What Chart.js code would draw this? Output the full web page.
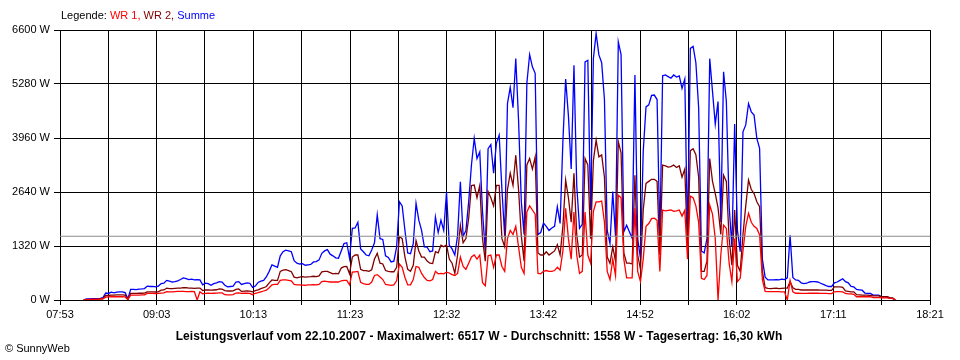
<!DOCTYPE html>
<html>
<head>
<meta charset="utf-8">
<script src="https://cdn.jsdelivr.net/npm/chart.js@4/dist/chart.umd.min.js"></script>
<style>
  html, body { margin: 0; padding: 0; background: #fff; }
  #wrap { position: relative; width: 960px; height: 360px; overflow: hidden; font-family: "Liberation Sans", Arial, sans-serif; }
  #c { position: absolute; left: 0; top: 0; }
  .txt { position: absolute; font-size: 11px; line-height: 13px; white-space: nowrap; color: #000; }
  #legend { left: 61px; top: 9px; }
  #title { left: 0; width: 958px; text-align: center; top: 330px; font-weight: bold; font-size: 12px; letter-spacing: 0.1px; }
  #copy { left: 5px; top: 342px; }
</style>
</head>
<body>
<div id="wrap">
  <canvas id="c" width="960" height="360"></canvas>
  <div class="txt" id="legend">Legende: <span style="color:#ff0000">WR 1,</span> <span style="color:#800000">WR 2,</span> <span style="color:#0000ff">Summe</span></div>
  <div class="txt" id="title">Leistungsverlauf vom 22.10.2007 - Maximalwert: 6517 W - Durchschnitt: 1558 W - Tagesertrag: 16,30 kWh</div>
  <div class="txt" id="copy">© SunnyWeb</div>
</div>
<script>
// x axis: minutes since midnight, 07:53 .. 18:21
const axisStart = 473;   // 07:53
const axisEnd = 1101;    // 18:21
const tickLabels = ['07:53','09:03','10:13','11:23','12:32','13:42','14:52','16:02','17:11','18:21'];
const yTicks = [0, 1320, 2640, 3960, 5280, 6600];
const average = 1558;

// samples every 2 minutes starting 08:10
const startMinute = 490;
const stepMinutes = 2;

const summe = [
  0,25,25,30,30,35,40,60,170,160,
  190,175,195,200,200,180,30,260,260,255,
  265,270,280,340,330,335,320,340,400,410,
  480,460,440,450,470,500,540,520,500,510,
  490,500,490,370,410,400,360,400,420,450,
  440,360,320,330,340,440,450,380,400,420,
  410,310,340,430,460,480,570,700,860,830,
  800,1080,1180,1220,1200,1180,960,900,880,890,
  850,860,870,930,940,980,1140,1200,1230,1120,
  1080,1030,1020,1200,1380,1400,1020,1750,1760,1900,
  1250,1180,1100,1080,1220,1400,2080,1500,1480,1080,
  1040,930,950,1300,2400,2300,1700,1150,1130,1380,
  2360,1950,1700,1300,1290,1180,1200,2030,1650,1950,
  1700,2640,1340,1250,1100,1580,2890,1560,1700,2400,
  3300,3950,3460,3620,2150,1180,3700,3800,3100,3830,
  4030,2700,1560,4800,5200,4700,5900,4400,2400,1600,
  5300,6000,5700,5540,1600,1650,1880,1800,1700,1760,
  1800,2280,1870,3870,5400,4500,3200,5740,2800,1750,
  1850,5820,5860,2200,5900,6517,5990,5800,4900,1700,
  1380,2650,1550,6310,6000,1670,1830,1670,1510,5500,
  1500,1020,3630,4720,4770,5000,5010,4900,1510,5480,
  5500,5460,5420,5500,5450,5480,5170,5400,1500,6150,
  6200,5800,4700,1200,1150,1500,5900,5100,4300,4850,
  1900,5580,4850,2300,1300,4300,1700,1180,4110,4280,
  4800,4600,4520,3950,3710,1000,560,490,490,490,
  500,490,510,500,540,1580,550,490,480,420,
  400,410,440,450,450,440,410,380,350,330,
  330,420,440,480,520,450,420,330,320,260,
  250,240,170,160,160,120,120,120,80,80,
  80,40,40,0
];

const wr2 = [
  0,10,15,15,20,20,25,35,110,110,
  120,120,125,125,125,120,20,160,160,160,
  165,165,170,200,200,200,195,200,240,245,
  290,280,280,285,290,290,300,300,290,290,
  285,290,290,230,245,245,240,245,250,270,
  265,230,220,220,225,260,270,210,215,220,
  215,200,230,250,280,300,330,420,490,480,
  480,700,730,740,720,690,560,540,560,570,
  560,565,570,580,570,590,690,700,700,670,
  640,650,640,780,815,820,640,1050,1100,1100,
  750,720,720,700,740,1000,1140,900,880,720,
  700,690,690,800,1550,1500,1050,750,700,850,
  1450,1200,1050,1050,950,900,890,1180,1150,1340,
  1300,1350,1000,900,650,1100,1830,1400,1500,2000,
  2800,2810,2500,2800,1500,950,2650,2500,2300,2800,
  2800,1500,1300,2700,3100,2800,3540,2700,1560,950,
  3300,3460,3200,3500,1150,1100,1100,1180,1100,1150,
  1200,1350,1100,1800,2930,2500,1900,3100,1600,1050,
  1100,3460,3300,1500,3400,3910,3500,3545,3000,1050,
  900,1300,950,3870,3600,1150,900,900,880,3050,
  1100,750,2200,2850,2900,2950,2950,2900,1100,3300,
  3280,3250,3260,3300,3240,3280,3000,3200,1250,3650,
  3700,3550,3000,700,700,950,3460,2900,2600,2250,
  1600,3050,2900,1500,850,2200,850,700,1600,2300,
  2930,2700,2600,2400,2280,700,300,285,280,285,
  290,280,285,290,290,450,300,260,260,245,
  245,245,245,245,245,245,240,240,240,235,
  235,320,320,320,310,220,210,200,200,130,
  125,120,120,120,110,100,100,100,80,80,
  80,60,50,0
];

const wr1 = [
  0,10,12,12,15,15,20,25,70,75,
  80,80,80,80,80,75,10,120,120,120,
  120,125,125,160,160,160,155,160,170,175,
  205,200,200,205,210,210,210,205,205,210,
  205,0,200,150,160,165,160,165,170,175,
  175,130,125,125,130,170,175,160,165,165,
  160,130,165,180,200,220,240,300,370,380,
  380,480,490,490,480,470,380,370,370,365,
  360,370,370,375,370,380,450,460,450,440,
  440,445,440,470,480,480,370,680,690,700,
  430,400,380,380,440,600,620,560,500,380,
  370,360,370,470,880,800,550,370,370,500,
  820,800,650,550,480,470,500,700,640,650,
  640,680,660,620,600,650,1050,820,750,900,
  1050,1100,1000,1100,420,350,1080,1100,800,1100,
  1100,820,700,1500,1700,1600,1800,1300,800,650,
  2150,2300,2200,2100,650,640,700,720,700,700,
  720,800,730,1200,2240,1500,1000,2150,1100,650,
  700,2150,1100,900,2160,2400,2400,2420,1900,700,
  500,1000,600,2560,2500,1000,540,540,540,2240,
  700,450,1000,1800,1870,1990,2000,1950,700,2200,
  2180,2190,2200,2170,2180,2200,2050,2190,1000,2540,
  2500,2300,1900,530,500,600,2320,2100,1500,0,
  1100,1830,1750,900,450,1500,450,530,1200,1800,
  2120,1900,1800,1750,1590,500,210,205,205,205,
  205,205,200,200,0,480,200,165,165,160,
  160,160,165,165,165,165,160,160,160,155,
  155,200,205,205,200,160,150,150,140,80,
  80,80,80,80,80,60,60,60,50,50,
  50,40,40,0
];

const toPoints = arr => arr.map((v, i) => ({ x: startMinute + i * stepMinutes, y: v }));

const font = { family: '"Liberation Sans", Arial, sans-serif', size: 11 };

new Chart(document.getElementById('c'), {
  type: 'line',
  data: {
    datasets: [
      { label: 'Durchschnitt', data: [{ x: axisStart, y: average }, { x: axisEnd, y: average }], borderColor: '#8c8c8c', borderWidth: 1, pointRadius: 0 },
      { label: 'WR 1', data: toPoints(wr1), borderColor: '#ff0000', borderWidth: 1.3, pointRadius: 0 },
      { label: 'WR 2', data: toPoints(wr2), borderColor: '#800000', borderWidth: 1.3, pointRadius: 0 },
      { label: 'Summe', data: toPoints(summe), borderColor: '#0000ff', borderWidth: 1.3, pointRadius: 0 }
    ]
  },
  options: {
    responsive: false,
    animation: false,
    devicePixelRatio: 1,
    layout: { padding: { left: 0, right: 30, top: 30, bottom: 40 } },
    plugins: { legend: { display: false }, tooltip: { enabled: false }, title: { display: false } },
    elements: { line: { tension: 0 }, point: { radius: 0 } },
    scales: {
      x: {
        type: 'linear', min: axisStart, max: axisEnd, z: 1,
        afterBuildTicks: s => {
          const n = (tickLabels.length - 1) * 2;
          const t = [];
          for (let k = 0; k <= n; k++) t.push({ value: axisStart + (axisEnd - axisStart) * k / n });
          s.ticks = t;
        },
        afterFit: s => { s.height = 20; },
        ticks: {
          autoSkip: false, maxRotation: 0, minRotation: 0, padding: 3, color: '#000', font,
          callback: (v, i) => (i % 2 === 0 ? tickLabels[i / 2] : '')
        },
        grid: { color: '#000', lineWidth: 1, tickLength: 5, tickColor: '#000' },
        border: { color: '#000', width: 1 }
      },
      y: {
        min: 0, max: 6600, z: 1,
        afterBuildTicks: s => { s.ticks = yTicks.map(v => ({ value: v })); },
        afterFit: s => { s.width = 60; },
        ticks: { padding: 4, color: '#000', font, callback: v => v + ' W' },
        grid: { color: '#000', lineWidth: 1, tickLength: 6, tickColor: '#000' },
        border: { color: '#000', width: 1 }
      }
    }
  }
});
</script>
</body>
</html>
